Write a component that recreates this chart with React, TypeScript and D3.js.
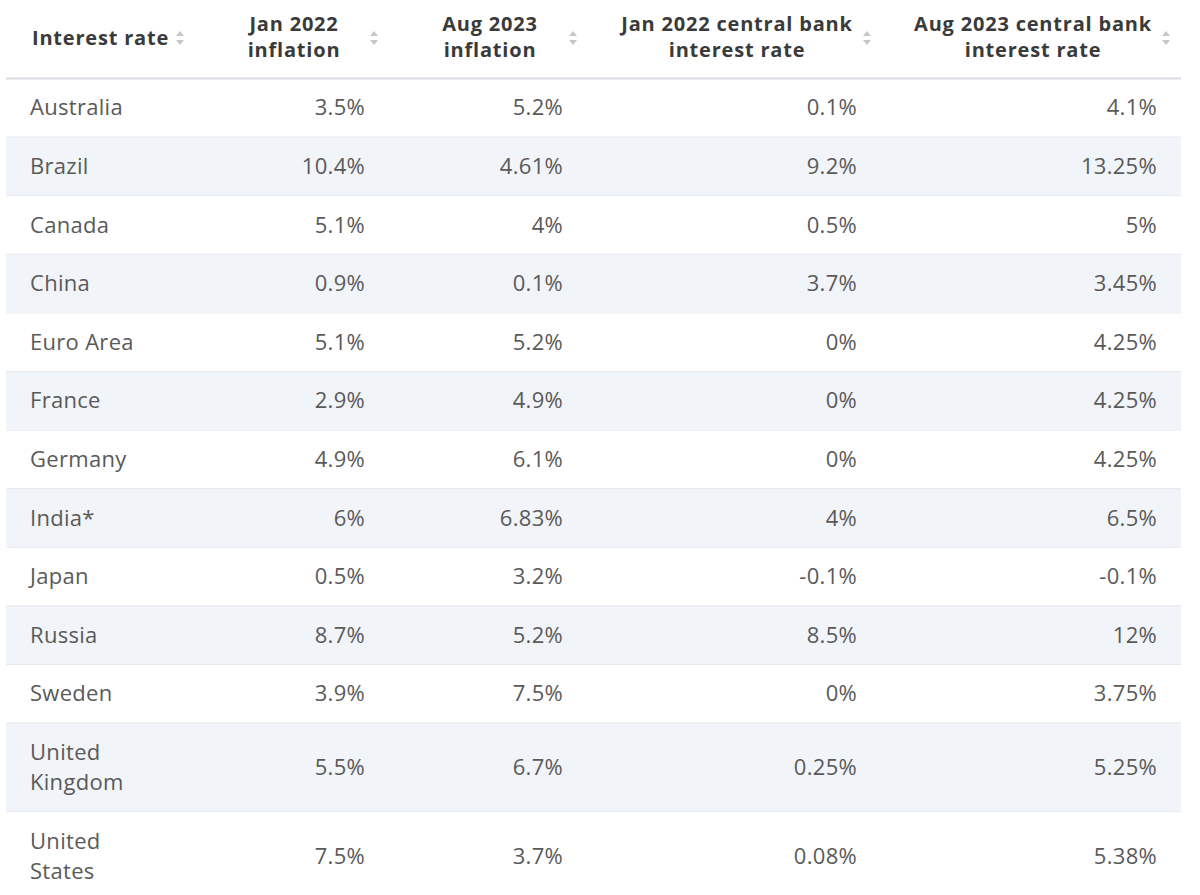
import { useEffect, useRef } from "react";
import * as d3 from "d3";

const countries = [
  "Australia", "Brazil", "Canada", "China", "Euro Area", "France", "Germany",
  "India*", "Japan", "Russia", "Sweden", "United Kingdom", "United States",
];
const jan2022Inflation = [3.5, 10.4, 5.1, 0.9, 5.1, 2.9, 4.9, 6, 0.5, 8.7, 3.9, 5.5, 7.5];
const aug2023Inflation = [5.2, 4.61, 4, 0.1, 5.2, 4.9, 6.1, 6.83, 3.2, 5.2, 7.5, 6.7, 3.7];
const jan2022Rate = [0.1, 9.2, 0.5, 3.7, 0, 0, 0, 4, -0.1, 8.5, 0, 0.25, 0.08];
const aug2023Rate = [4.1, 13.25, 5, 3.45, 4.25, 4.25, 4.25, 6.5, -0.1, 12, 3.75, 5.25, 5.38];

const headers = [
  ["Interest rate"],
  ["Jan 2022", "inflation"],
  ["Aug 2023", "inflation"],
  ["Jan 2022 central bank", "interest rate"],
  ["Aug 2023 central bank", "interest rate"],
];

// which names wrap onto two lines in the narrow first column
const wrapped: Record<string, string[]> = {
  "United Kingdom": ["United", "Kingdom"],
  "United States": ["United", "States"],
};

export default function App() {
  const ref = useRef<SVGSVGElement>(null);

  useEffect(() => {
    document.body.style.margin = "0";
    const width = 1200, height = 895;
    const left = 6, right = 1181;
    const headerH = 78;
    const singleH = 58.6, doubleH = 88.6;
    const font = "'Open Sans', sans-serif";

    const svg = d3.select(ref.current)
      .attr("width", width)
      .attr("height", height)
      .style("display", "block")
      .style("background", "#fff");
    svg.selectAll("*").remove();

    const values = [jan2022Inflation, aug2023Inflation, jan2022Rate, aug2023Rate];
    const rows = countries.map((c, i) => ({
      name: c,
      lines: wrapped[c] || [c],
      vals: values.map(v => v[i]),
    }));

    // cumulative row positions
    let y = headerH;
    const rowY = rows.map(r => {
      const h = r.lines.length > 1 ? doubleH : singleH;
      const out = { y0: y, h };
      y += h;
      return out;
    });

    const valueRight = [365, 563, 857, 1157];
    const headerCenter = [100, 294, 490, 737, 1033];
    const iconX = [180, 374, 573, 867, 1166];
    const fmt = (v: number) => `${v}%`;

    // row backgrounds
    svg.append("g").selectAll("rect")
      .data(rows)
      .join("rect")
      .attr("x", left)
      .attr("y", (d, i) => rowY[i].y0)
      .attr("width", right - left)
      .attr("height", (d, i) => rowY[i].h)
      .attr("fill", (d, i) => (i % 2 === 1 ? "#f1f4f9" : "#fff"));

    // separators
    svg.append("g").selectAll("line")
      .data(rows)
      .join("line")
      .attr("x1", left)
      .attr("x2", right)
      .attr("y1", (d, i) => rowY[i].y0 + 0.5)
      .attr("y2", (d, i) => rowY[i].y0 + 0.5)
      .attr("stroke", (d, i) => (i === 0 ? "#d9dde3" : "#e6e9ee"))
      .attr("stroke-width", (d, i) => (i === 0 ? 2 : 1));

    // header
    const head = svg.append("g")
      .attr("font-family", font)
      .attr("font-weight", 700)
      .attr("font-size", 20)
      .attr("letter-spacing", 0.8)
      .attr("fill", "#3a3a3a");
    headers.forEach((lines, j) => {
      const t = head.append("text")
        .attr("text-anchor", j === 0 ? "start" : "middle")
        .attr("x", j === 0 ? 32 : headerCenter[j]);
      lines.forEach((l, k) => {
        t.append("tspan")
          .attr("x", j === 0 ? 32 : headerCenter[j])
          .attr("y", lines.length === 1 ? 45 : 31 + k * 26)
          .text(l);
      });
      // sort arrows
      const cx = iconX[j], cy = 38;
      head.append("path")
        .attr("d", `M${cx - 4},${cy - 2}L${cx},${cy - 7}L${cx + 4},${cy - 2}Z`)
        .attr("fill", "#c4c7cc");
      head.append("path")
        .attr("d", `M${cx - 4},${cy + 2}L${cx},${cy + 7}L${cx + 4},${cy + 2}Z`)
        .attr("fill", "#c4c7cc");
    });

    // body
    const body = svg.append("g")
      .attr("font-family", font)
      .attr("font-size", 22)
      .attr("letter-spacing", 0.3)
      .attr("fill", "#5a5a5a");
    rows.forEach((r, i) => {
      const { y0, h } = rowY[i];
      const mid = y0 + h / 2;
      const name = body.append("text").attr("x", 30);
      r.lines.forEach((l, k) => {
        name.append("tspan")
          .attr("x", 30)
          .attr("y", mid + 8 + (k - (r.lines.length - 1) / 2) * 30)
          .text(l);
      });
      r.vals.forEach((v, j) => {
        body.append("text")
          .attr("x", valueRight[j])
          .attr("y", mid + 8)
          .attr("text-anchor", "end")
          .text(fmt(v));
      });
    });
  }, []);

  return <svg ref={ref} />;
}
